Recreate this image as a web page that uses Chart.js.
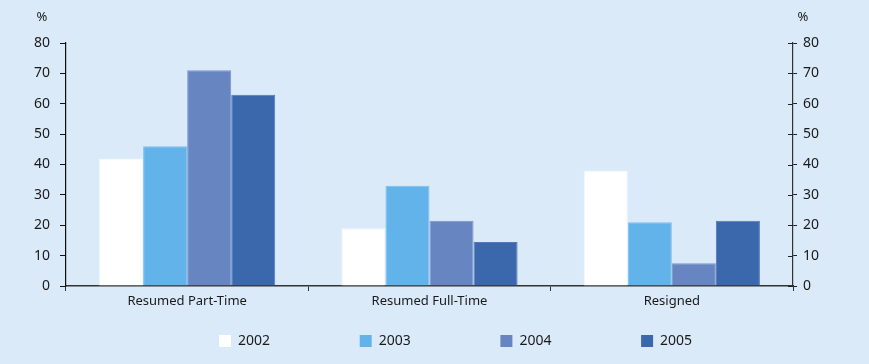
<!DOCTYPE html>
<html>
<head>
<meta charset="utf-8">
<script src="https://cdn.jsdelivr.net/npm/chart.js@4"></script>
<style>
  html, body { margin: 0; padding: 0; background: #daeaf8; }
  #wrap { width: 869px; height: 364px; }
</style>
</head>
<body>
<div id="wrap"><canvas id="chart" width="869" height="364"></canvas></div>
<script>
// data
const categories = ['Resumed Part-Time', 'Resumed Full-Time', 'Resigned'];
const years = ['2002', '2003', '2004', '2005'];
const values2002 = [42, 19, 38];
const values2003 = [46, 33, 21];
const values2004 = [71, 21.5, 7.5];
const values2005 = [63, 14.5, 21.5];
const yTicks = [0, 10, 20, 30, 40, 50, 60, 70, 80];

const colors = ['#ffffff', '#63b3eb', '#6785c1', '#3b67ad'];
const borders = ['#f2f7fc', '#79bfef', '#7b95c9', '#5079b8'];
const font = "'Noto Sans', sans-serif";

const series = [values2002, values2003, values2004, values2005];

// legend + % labels, drawn after the chart
const extras = {
    id: 'extras',
    afterDraw(chart) {
        const ctx = chart.ctx;
        const area = chart.chartArea;
        ctx.save();
        ctx.fillStyle = '#1a1a1a';
        ctx.font = '13px ' + font;
        ctx.textAlign = 'center';
        ctx.textBaseline = 'middle';
        ctx.fillText('%', 42, 17);
        ctx.fillText('%', 803, 17);

        // legend
        ctx.font = '14px ' + font;
        ctx.textAlign = 'left';
        chart.data.datasets.forEach((ds, i) => {
            const x = 219 + i * 140.7;
            ctx.fillStyle = ds.backgroundColor;
            ctx.fillRect(x, 335, 12, 12);
            ctx.fillStyle = '#1a1a1a';
            ctx.fillText(ds.label, x + 19, 341.5);
        });

        // right axis ticks cross into the plot a little
        const y2 = chart.scales.y2;
        ctx.strokeStyle = '#222';
        ctx.lineWidth = 1;
        yTicks.forEach(v => {
            const py = Math.round(y2.getPixelForValue(v)) + 0.5;
            ctx.beginPath();
            ctx.moveTo(area.right - 5, py);
            ctx.lineTo(area.right, py);
            ctx.stroke();
        });
        ctx.restore();
    }
};

new Chart(document.getElementById('chart'), {
    type: 'bar',
    data: {
        labels: categories,
        datasets: years.map((y, i) => ({
            label: y,
            data: series[i],
            backgroundColor: colors[i],
            borderColor: borders[i],
            borderWidth: 1,
            categoryPercentage: 0.727,
            barPercentage: 1.0,
            yAxisID: 'y'
        }))
    },
    options: {
        responsive: false,
        animation: false,
        layout: { padding: { top: 43, left: 0, right: 0, bottom: 0 } },
        plugins: {
            legend: { display: false },
            tooltip: { enabled: false }
        },
        scales: {
            x: {
                grid: {
                    offset: true,
                    drawOnChartArea: false,
                    tickLength: 5,
                    color: '#333'
                },
                border: { color: '#333', width: 1.5 },
                ticks: {
                    color: '#1a1a1a',
                    font: { family: font, size: 13 },
                    padding: 2,
                    maxRotation: 0
                },
                afterFit(scale) { scale.height = 78; }
            },
            y: {
                position: 'left',
                min: 0,
                max: 80,
                afterBuildTicks(scale) { scale.ticks = yTicks.map(v => ({ value: v })); },
                grid: { drawOnChartArea: false, tickLength: 6, color: '#111' },
                border: { color: '#111', width: 1.2 },
                ticks: {
                    color: '#1a1a1a',
                    font: { family: font, size: 14 },
                    padding: 10
                },
                afterFit(scale) { scale.width = 66; }
            },
            y2: {
                position: 'right',
                min: 0,
                max: 80,
                afterBuildTicks(scale) { scale.ticks = yTicks.map(v => ({ value: v })); },
                grid: { drawOnChartArea: false, tickLength: 4, color: '#222' },
                border: { color: '#333', width: 1.2 },
                ticks: {
                    color: '#1a1a1a',
                    font: { family: font, size: 14 },
                    padding: 6
                },
                afterFit(scale) { scale.width = 76; }
            }
        }
    },
    plugins: [extras]
});
</script>
</body>
</html>
